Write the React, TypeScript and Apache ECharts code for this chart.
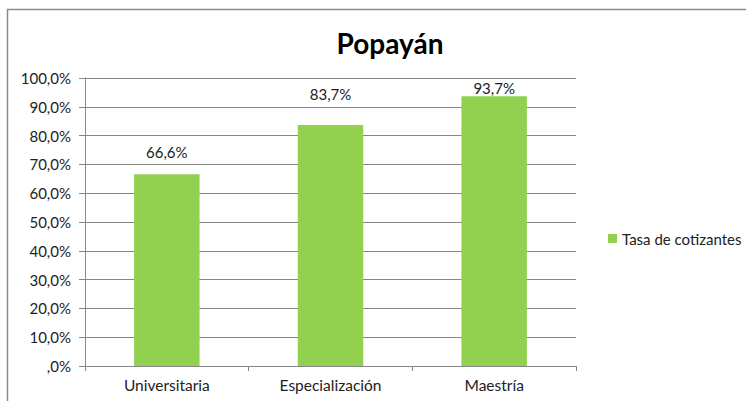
import React, { useEffect, useRef } from "react";
import * as echarts from "echarts";

const title = "Popayán";
const categories = ["Universitaria", "Especialización", "Maestría"];
const seriesName = "Tasa de cotizantes";
const values = [66.6, 83.7, 93.7];
const labelOffsets = [-6, -14, 8];

const fmt = (v: number) => {
  const s = v.toFixed(1).replace(".", ",");
  return (s.startsWith("0,") ? s.slice(1) : s) + "%";
};

export default function App() {
  const ref = useRef<HTMLDivElement>(null);
  useEffect(() => {
    if (!ref.current) return;
    const chart = echarts.init(ref.current, null, { renderer: "svg" });
    const font = "Lato, 'Open Sans', sans-serif";
    chart.setOption({
      animation: false,
      textStyle: { fontFamily: font },
      title: {
        text: title,
        left: 385,
        top: 24,
        textAlign: "center",
        textStyle: { fontSize: 28, fontWeight: "bold", color: "#000", fontFamily: font },
      },
      graphic: [
        {
          type: "rect",
          shape: { x: 7.5, y: 9.5, width: 800, height: 500 },
          style: { fill: "none", stroke: "#8a8a8a", lineWidth: 1.5 },
          silent: true,
        },
      ],
      legend: {
        left: 603,
        top: 226,
        itemWidth: 9,
        itemHeight: 9,
        itemGap: 4,
        icon: "rect",
        textStyle: { fontSize: 15, color: "#222", fontFamily: font },
        data: [seriesName],
      },
      grid: { left: 85, top: 78, width: 491, height: 288, containLabel: false },
      xAxis: {
        type: "category",
        data: categories,
        axisLine: { lineStyle: { color: "#868686" } },
        axisTick: { show: true, length: 5, lineStyle: { color: "#868686" } },
        axisLabel: { fontSize: 15.5, color: "#222", margin: 11, fontFamily: font },
      },
      yAxis: {
        type: "value",
        min: 0,
        max: 100,
        interval: 10,
        axisLine: { show: true, lineStyle: { color: "#868686" } },
        axisTick: { show: true, length: 6, lineStyle: { color: "#868686" } },
        splitLine: { lineStyle: { color: "#868686" } },
        axisLabel: { fontSize: 15, color: "#222", margin: 14, formatter: (v: number) => fmt(v), fontFamily: font },
      },
      series: [
        {
          name: seriesName,
          type: "bar",
          barWidth: "40%",
          itemStyle: { color: "#92D050" },
          data: values.map((v, i) => ({
            value: v,
            label: { offset: [0, labelOffsets[i]] },
          })),
          label: {
            show: true,
            position: "top",
            distance: 9,
            fontSize: 15,
            color: "#222",
            fontFamily: font,
            formatter: (p: any) => fmt(p.value),
          },
        },
      ],
    });
    return () => chart.dispose();
  }, []);
  return (
    <div
      ref={ref}
      style={{ position: "fixed", left: 0, top: 0, width: 746, height: 401, background: "#fff" }}
    />
  );
}
